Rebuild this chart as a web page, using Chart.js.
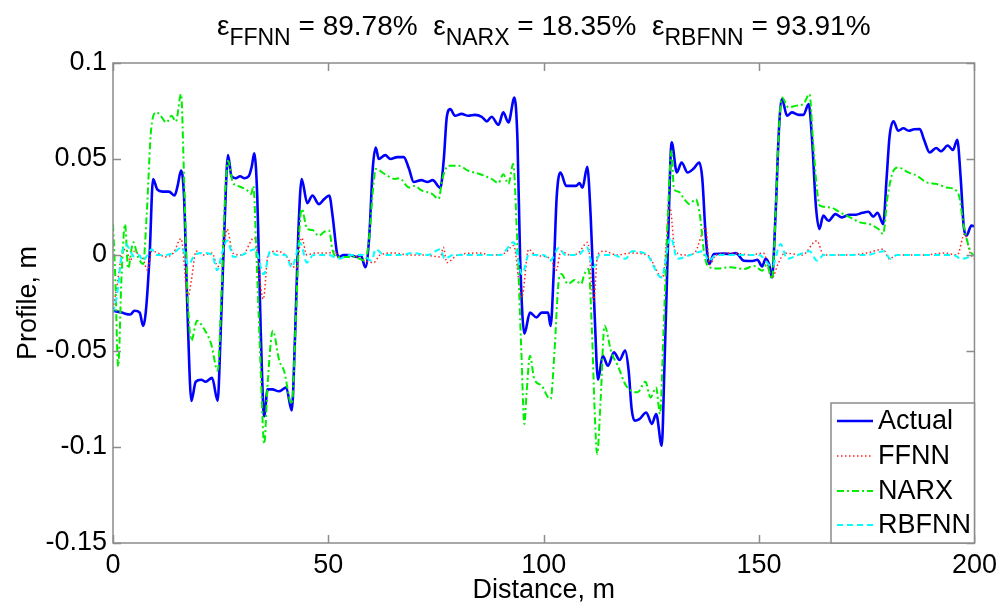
<!DOCTYPE html>
<html>
<head>
<meta charset="utf-8">
<script src="https://cdn.jsdelivr.net/npm/chart.js@4/dist/chart.umd.min.js"></script>
<style>
  html, body { margin: 0; padding: 0; background: #ffffff; }
  #wrap { width: 1003px; height: 607px; }
</style>
</head>
<body>
<div id="wrap"><canvas id="profile" width="1003" height="607"></canvas></div>
<script>
// Road profile along the test section and the three network predictions.
const actualX = [0, 2, 4, 5, 6.2, 7.0, 7.6, 8.5, 9.3, 10.3, 11.5, 13, 14.3, 15.0, 15.8, 16.5, 17.3, 18.2, 19.2, 20.5, 21.5, 23.0, 24.3, 25.0, 25.8, 26.7, 27.5, 28.5, 29.5, 30.5, 31.5, 32.2, 32.8, 33.5, 34.3, 35.1, 35.9, 37, 38.5, 40.2, 41.5, 42.3, 43.0, 43.8, 45.1, 46.3, 47.8, 49, 50.2, 51.0, 52.0, 52.5, 53.5, 55, 56.5, 57.5, 58.6, 59.5, 60.3, 61.0, 61.7, 63.2, 64.4, 66, 67.5, 68.7, 69.8, 71.6, 73, 74.2, 76.0, 76.8, 77.5, 78.3, 79.4, 80.9, 82.5, 84, 85.6, 86.8, 87.9, 89.5, 90.6, 91.8, 93.2, 93.9, 94.5, 95.5, 96.8, 98.3, 99.5, 101.0, 101.6, 102.3, 103.0, 103.9, 105.2, 106.5, 107.5, 108.3, 109, 110.1, 110.9, 111.8, 112.6, 113.7, 114.9, 116.3, 117.6, 118.9, 119.7, 120.4, 121.1, 122.2, 123.8, 125.1, 126.1, 127.4, 128.0, 128.9, 129.7, 130.9, 132, 133.4, 134.8, 136.1, 136.8, 137.6, 138.4, 139.5, 141.9, 143.5, 144.6, 146.5, 148.5, 149.6, 150.7, 151.5, 152.3, 153.0, 153.8, 154.6, 155.3, 156.5, 157.6, 159.2, 160.3, 161.5, 162.3, 163.2, 164.0, 164.9, 166.1, 167.7, 169.2, 171, 172.5, 174, 175.4, 176.5, 177.5, 178.8, 179.6, 180.3, 181.2, 182.3, 183.5, 184.7, 186, 187.3, 188.3, 189.6, 191.1, 192.2, 193.8, 195, 196, 196.8, 197.5, 198.1, 199.3, 200];
const actualY = [-0.029, -0.030, -0.031, -0.029, -0.030, -0.037, -0.030, 0.000, 0.0396, 0.034, 0.033, 0.033, 0.031, 0.036, 0.044, 0.030, -0.030, -0.076, -0.066, -0.065, -0.066, -0.064, -0.076, -0.040, 0.010, 0.052, 0.041, 0.040, 0.041, 0.040, 0.041, 0.046, 0.053, 0.030, -0.040, -0.084, -0.070, -0.070, -0.071, -0.069, -0.081, -0.040, 0.010, 0.0396, 0.027, 0.031, 0.0265, 0.029, 0.031, 0.020, 0.001, -0.001, 0.000, 0.000, -0.001, 0.000, -0.0064, 0.010, 0.045, 0.056, 0.050, 0.052, 0.050, 0.051, 0.051, 0.045, 0.038, 0.039, 0.038, 0.039, 0.035, 0.050, 0.072, 0.076, 0.0725, 0.0735, 0.0725, 0.073, 0.072, 0.0696, 0.072, 0.0678, 0.0743, 0.069, 0.082, 0.060, 0.000, -0.041, -0.030, -0.0325, -0.030, -0.030, -0.037, -0.010, 0.030, 0.043, 0.036, 0.036, 0.036, 0.0375, 0.035, 0.046, 0.020, -0.030, -0.065, -0.0525, -0.0577, -0.0507, -0.0547, -0.0498, -0.060, -0.080, -0.0863, -0.0855, -0.082, -0.088, -0.0828, -0.0993, -0.060, 0.010, 0.0587, 0.043, 0.0482, 0.043, 0.045, 0.0482, 0.040, 0.010, -0.0047, 0.0005, 0.0007, 0.0005, 0.001, -0.003, -0.0031, -0.0025, -0.006, -0.002, -0.0047, -0.0117, 0.020, 0.065, 0.0812, 0.0725, 0.0743, 0.073, 0.073, 0.0786, 0.060, 0.025, 0.0135, 0.0205, 0.0178, 0.0213, 0.0196, 0.021, 0.021, 0.022, 0.0225, 0.020, 0.022, 0.0161, 0.040, 0.062, 0.0696, 0.0647, 0.066, 0.0647, 0.0655, 0.0656, 0.060, 0.0534, 0.0557, 0.054, 0.057, 0.0547, 0.060, 0.040, 0.015, 0.010, 0.0153, 0.015];

const ffnnX = [0, 1, 2, 3, 4, 5, 6, 7, 8, 9, 10.5, 12, 14, 15.8, 17.4, 18.2, 19.3, 21, 23, 24.3, 25.5, 26.5, 27.8, 30, 32.8, 34.9, 36, 38, 40, 41.5, 42.5, 43.8, 45, 47, 50, 51.5, 52.5, 55, 58.6, 60.5, 62, 65, 69, 72, 76.0, 76.7, 77.5, 80, 85, 88, 91, 93.0, 94.9, 96.5, 98, 101.6, 102.9, 104, 106, 108, 110.2, 111.6, 112.5, 114, 117, 120, 124, 127.6, 129.3, 130.5, 133, 135, 137.6, 138.5, 140, 144, 148, 151, 153.0, 154.5, 156, 160, 163.4, 165, 170, 175, 178.8, 180.2, 182, 188, 193, 196, 197.7, 199, 200];
const ffnnY = [-0.028, -0.015, 0.000, 0.003, -0.003, 0.002, 0.000, -0.002, -0.008, 0.002, 0.001, -0.001, 0.001, 0.0085, -0.022, -0.013, 0.002, 0.000, 0.001, -0.006, 0.000, 0.0135, 0.001, 0.000, 0.009, -0.023, 0.000, 0.002, 0.000, -0.005, -0.007, 0.009, 0.000, 0.001, 0.001, 0.002, -0.002, 0.000, -0.003, -0.004, 0.000, 0.001, 0.000, 0.000, -0.001, 0.004, -0.004, 0.000, 0.001, 0.000, 0.001, 0.005, -0.022, 0.003, 0.000, -0.002, -0.008, 0.002, 0.000, 0.001, 0.0066, -0.024, 0.000, 0.002, 0.000, 0.001, 0.000, -0.0117, 0.0248, 0.002, 0.000, 0.001, 0.0144, -0.005, 0.000, 0.001, 0.000, 0.001, -0.012, -0.004, 0.001, 0.000, 0.0074, 0.000, 0.000, 0.001, 0.003, -0.002, 0.000, 0.000, 0.001, 0.000, 0.011, 0.001, -0.002];

const narxX = [0, 0.5, 1.2, 2.0, 2.8, 3.5, 4.7, 5.8, 7.0, 7.8, 8.9, 10.1, 10.9, 12.4, 13.6, 14.6, 15.8, 16.5, 17.3, 18.2, 19.5, 20.9, 22.8, 24.3, 25.2, 26.0, 26.7, 27.8, 29, 30.1, 31, 32.1, 32.6, 33.3, 34.3, 35.1, 35.9, 37.1, 38.6, 39.7, 41.5, 42.5, 43.2, 43.8, 45.1, 46.3, 47.8, 49, 50.2, 50.9, 52, 54, 56, 58.6, 59.5, 60.4, 61.0, 63.2, 65.5, 66.5, 68.7, 70, 71.7, 74.0, 75.6, 76.5, 77.9, 80.2, 82.5, 85.6, 87.9, 89.5, 90.6, 91.8, 92.9, 93.8, 94.8, 95.5, 96.0, 96.8, 97.8, 99.5, 101.0, 101.6, 102.5, 103.4, 104.1, 105.6, 107.2, 108.7, 109.4, 110.4, 111.2, 111.8, 112.4, 113.2, 114.1, 115.7, 117.2, 119.1, 121.8, 123.6, 124.8, 126.1, 127.0, 127.8, 128.8, 129.7, 130.2, 131.3, 132.6, 133.8, 135.3, 136.3, 137.3, 138.4, 140.3, 143.4, 146.5, 148.8, 150.7, 151.8, 153.0, 153.8, 154.6, 155.3, 156.8, 158.7, 160.3, 161.7, 162.5, 163.4, 164.1, 166.4, 168.8, 171.1, 173.4, 175.7, 177.7, 178.8, 179.8, 181.2, 182.3, 184.6, 186.6, 188.9, 191.2, 193.5, 195.8, 196.5, 197.3, 198.1, 199.3, 200];
const narxY = [0.016, -0.010, -0.058, -0.010, 0.016, -0.007, 0.0066, -0.001, -0.0047, 0.020, 0.0665, 0.0743, 0.073, 0.069, 0.0725, 0.0695, 0.0838, 0.040, -0.020, -0.0446, -0.0342, -0.0377, -0.0464, -0.0603, -0.020, 0.030, 0.0491, 0.0378, 0.036, 0.035, 0.034, 0.0318, 0.036, 0.000, -0.060, -0.0984, -0.067, -0.0394, -0.055, -0.0603, -0.0776, -0.030, 0.010, 0.024, 0.0135, 0.013, 0.010, 0.012, 0.0127, 0.003, -0.001, -0.001, -0.001, -0.003, 0.010, 0.035, 0.0448, 0.042, 0.0396, 0.040, 0.0352, 0.036, 0.0335, 0.032, 0.0292, 0.040, 0.0465, 0.0465, 0.0439, 0.0418, 0.0396, 0.0375, 0.042, 0.037, 0.0474, 0.010, -0.050, -0.088, -0.0724, -0.0525, -0.0646, -0.068, -0.0742, -0.075, -0.050, -0.015, -0.0099, -0.0151, -0.013, -0.0151, -0.0102, -0.0073, -0.040, -0.080, -0.1036, -0.0759, -0.0368, -0.0507, -0.0577, -0.068, -0.0715, -0.066, -0.0742, -0.069, -0.0828, -0.040, 0.020, 0.0543, 0.0344, 0.033, 0.0292, 0.0266, 0.029, 0.020, 0.000, -0.0064, -0.007, -0.0064, -0.0073, -0.0057, -0.0082, -0.005, -0.0125, 0.020, 0.065, 0.082, 0.0769, 0.0778, 0.0786, 0.0838, 0.060, 0.035, 0.0257, 0.0248, 0.0222, 0.0196, 0.017, 0.016, 0.0135, 0.011, 0.030, 0.0439, 0.0456, 0.043, 0.0413, 0.0378, 0.037, 0.0352, 0.0335, 0.030, 0.018, 0.0092, 0.001, 0.000];

const rbfnnX = [0, 1, 2, 3, 4, 5, 6, 7, 8, 9, 10, 12, 14, 16, 17.5, 19, 21, 23, 24.2, 25.2, 26.5, 28, 30, 33, 35, 36.5, 38, 40, 41.5, 43.5, 45, 46.5, 50, 52.5, 55, 58, 60, 61, 63, 67, 69.5, 73, 76, 77, 79, 85, 90, 93, 95, 96.5, 100, 101.5, 103.5, 105, 108, 110, 111.5, 113, 116, 119, 120.5, 124, 127.3, 129.5, 131, 134, 137, 138.3, 140, 145, 150, 153, 155, 156.5, 159, 161.7, 163.5, 165, 170, 175, 179, 180.5, 182, 190, 195, 197, 200];
const rbfnnY = [-0.030, -0.020, 0.000, 0.0057, 0.002, -0.001, 0.000, -0.003, 0.000, 0.003, 0.000, 0.000, 0.001, 0.004, -0.005, 0.000, 0.001, 0.000, -0.008, 0.000, 0.0075, -0.001, 0.000, 0.003, -0.010, 0.002, 0.000, 0.000, -0.0064, 0.0062, -0.004, 0.000, 0.000, -0.002, 0.000, 0.000, -0.003, 0.003, 0.000, 0.000, 0.001, 0.000, 0.003, -0.002, 0.000, 0.000, 0.000, 0.0066, -0.010, 0.000, 0.000, -0.003, 0.0036, 0.000, 0.000, 0.004, -0.0064, 0.000, 0.000, -0.002, 0.002, 0.000, -0.0117, 0.0092, -0.002, 0.000, 0.002, -0.003, 0.000, 0.000, 0.000, -0.006, 0.0057, -0.002, 0.000, 0.002, -0.003, 0.000, 0.000, 0.000, 0.002, -0.002, 0.000, 0.000, 0.000, -0.002, 0.000];

// Error figures shown in the heading
const errorNames = ['FFNN', 'NARX', 'RBFNN'];
const errorValues = ['89.78%', '18.35%', '93.91%'];

// Axis ranges and tick steps
const xRange = [0, 200];
const xStep = 50;
const yRange = [-0.15, 0.1];
const yStep = 0.05;

const FONT = '"Liberation Sans", Arial, Helvetica, sans-serif';

function pairs(xs, ys) {
  return xs.map((v, i) => ({ x: v, y: ys[i] }));
}

// Box around the axes with inward ticks on all four sides
const frameTicks = {
  id: 'frameTicks',
  afterDatasetsDraw(chart) {
    const { ctx, chartArea: a, scales: { x, y } } = chart;
    ctx.save();
    ctx.strokeStyle = '#8c8c8c';
    ctx.lineWidth = 1.5;
    ctx.beginPath();
    x.ticks.forEach(t => {
      const px = Math.round(x.getPixelForValue(t.value)) + 0.5;
      ctx.moveTo(px, a.bottom); ctx.lineTo(px, a.bottom - 8);
      ctx.moveTo(px, a.top); ctx.lineTo(px, a.top + 8);
    });
    y.ticks.forEach(t => {
      const py = Math.round(y.getPixelForValue(t.value)) + 0.5;
      ctx.moveTo(a.left, py); ctx.lineTo(a.left + 8, py);
      ctx.moveTo(a.right, py); ctx.lineTo(a.right - 8, py);
    });
    ctx.stroke();
    ctx.strokeRect(a.left, a.top, a.right - a.left, a.bottom - a.top);
    ctx.restore();
  }
};

// Heading with subscripted epsilon labels
const errorHeading = {
  id: 'errorHeading',
  afterDraw(chart) {
    const { ctx, chartArea: a } = chart;
    const mainFont = '28px ' + FONT;
    const subFont = '23px ' + FONT;
    const parts = [];
    errorNames.forEach((n, i) => {
      parts.push({ t: '\u03B5', f: mainFont, dy: 0 });
      parts.push({ t: n, f: subFont, dy: 10 });
      parts.push({ t: ' = ' + errorValues[i] + (i < errorNames.length - 1 ? '  ' : ''), f: mainFont, dy: 0 });
    });
    ctx.save();
    let total = 0;
    parts.forEach(p => { ctx.font = p.f; p.w = ctx.measureText(p.t).width; total += p.w; });
    let cx = (a.left + a.right) / 2 - total / 2;
    const base = 35;
    ctx.fillStyle = '#000000';
    ctx.textBaseline = 'alphabetic';
    ctx.textAlign = 'left';
    parts.forEach(p => {
      ctx.font = p.f;
      ctx.fillText(p.t, cx, base + p.dy);
      cx += p.w;
    });
    ctx.restore();
  }
};

// Boxed legend in the lower right corner of the axes
const boxLegend = {
  id: 'boxLegend',
  afterDraw(chart) {
    const { ctx, chartArea: a } = chart;
    const left = 831, top = 403;
    ctx.save();
    ctx.fillStyle = '#ffffff';
    ctx.fillRect(left, top, a.right - left, a.bottom - top);
    ctx.strokeStyle = '#8c8c8c';
    ctx.lineWidth = 1.5;
    ctx.strokeRect(left, top, a.right - left, a.bottom - top);
    ctx.font = '27px ' + FONT;
    ctx.textBaseline = 'middle';
    ctx.textAlign = 'left';
    const rows = [421, 456, 491, 525];
    chart.data.datasets.forEach((ds, i) => {
      const yy = rows[i];
      ctx.beginPath();
      ctx.setLineDash(ds.borderDash || []);
      ctx.strokeStyle = ds.borderColor;
      ctx.lineWidth = ds.borderWidth;
      ctx.moveTo(837, yy);
      ctx.lineTo(873, yy);
      ctx.stroke();
      ctx.setLineDash([]);
      ctx.fillStyle = '#000000';
      ctx.fillText(ds.label, 878, yy + 1);
    });
    ctx.restore();
  }
};

const fmt = v => String(Math.round(v * 100) / 100);

new Chart(document.getElementById('profile'), {
  type: 'line',
  data: {
    datasets: [
      { label: 'Actual', data: pairs(actualX, actualY), borderColor: '#0000ff', borderWidth: 2.6, order: 4 },
      { label: 'FFNN', data: pairs(ffnnX, ffnnY), borderColor: '#ff2020', borderWidth: 1.5, borderDash: [1.5, 2.5], order: 3 },
      { label: 'NARX', data: pairs(narxX, narxY), borderColor: '#00ee00', borderWidth: 2, borderDash: [7, 3, 2, 3], order: 2 },
      { label: 'RBFNN', data: pairs(rbfnnX, rbfnnY), borderColor: '#00ffff', borderWidth: 2, borderDash: [6, 4], order: 1 }
    ]
  },
  options: {
    responsive: false,
    animation: false,
    devicePixelRatio: 1,
    parsing: true,
    elements: {
      point: { radius: 0, hoverRadius: 0 },
      line: { fill: false, cubicInterpolationMode: 'monotone' }
    },
    layout: { padding: { left: 0, right: 25, top: 63, bottom: 0 } },
    plugins: {
      legend: { display: false },
      tooltip: { enabled: false },
      title: { display: false }
    },
    scales: {
      x: {
        type: 'linear',
        min: xRange[0], max: xRange[1],
        grid: { display: false, drawTicks: false },
        border: { display: false },
        ticks: { stepSize: xStep, color: '#000000', font: { family: FONT, size: 27 }, padding: 6, maxRotation: 0 },
        title: { display: true, text: 'Distance, m', color: '#000000', font: { family: FONT, size: 27 }, padding: { top: 0, bottom: 0 } },
        afterFit(scale) { scale.height = 64; }
      },
      y: {
        type: 'linear',
        min: yRange[0], max: yRange[1],
        grid: { display: false, drawTicks: false },
        border: { display: false },
        ticks: { stepSize: yStep, color: '#000000', font: { family: FONT, size: 27 }, padding: 6, callback: fmt },
        title: { display: true, text: 'Profile, m', color: '#000000', font: { family: FONT, size: 27 }, padding: { top: 12, bottom: 0 } },
        afterFit(scale) { scale.width = 113; }
      }
    }
  },
  plugins: [frameTicks, errorHeading, boxLegend]
});
</script>
</body>
</html>
